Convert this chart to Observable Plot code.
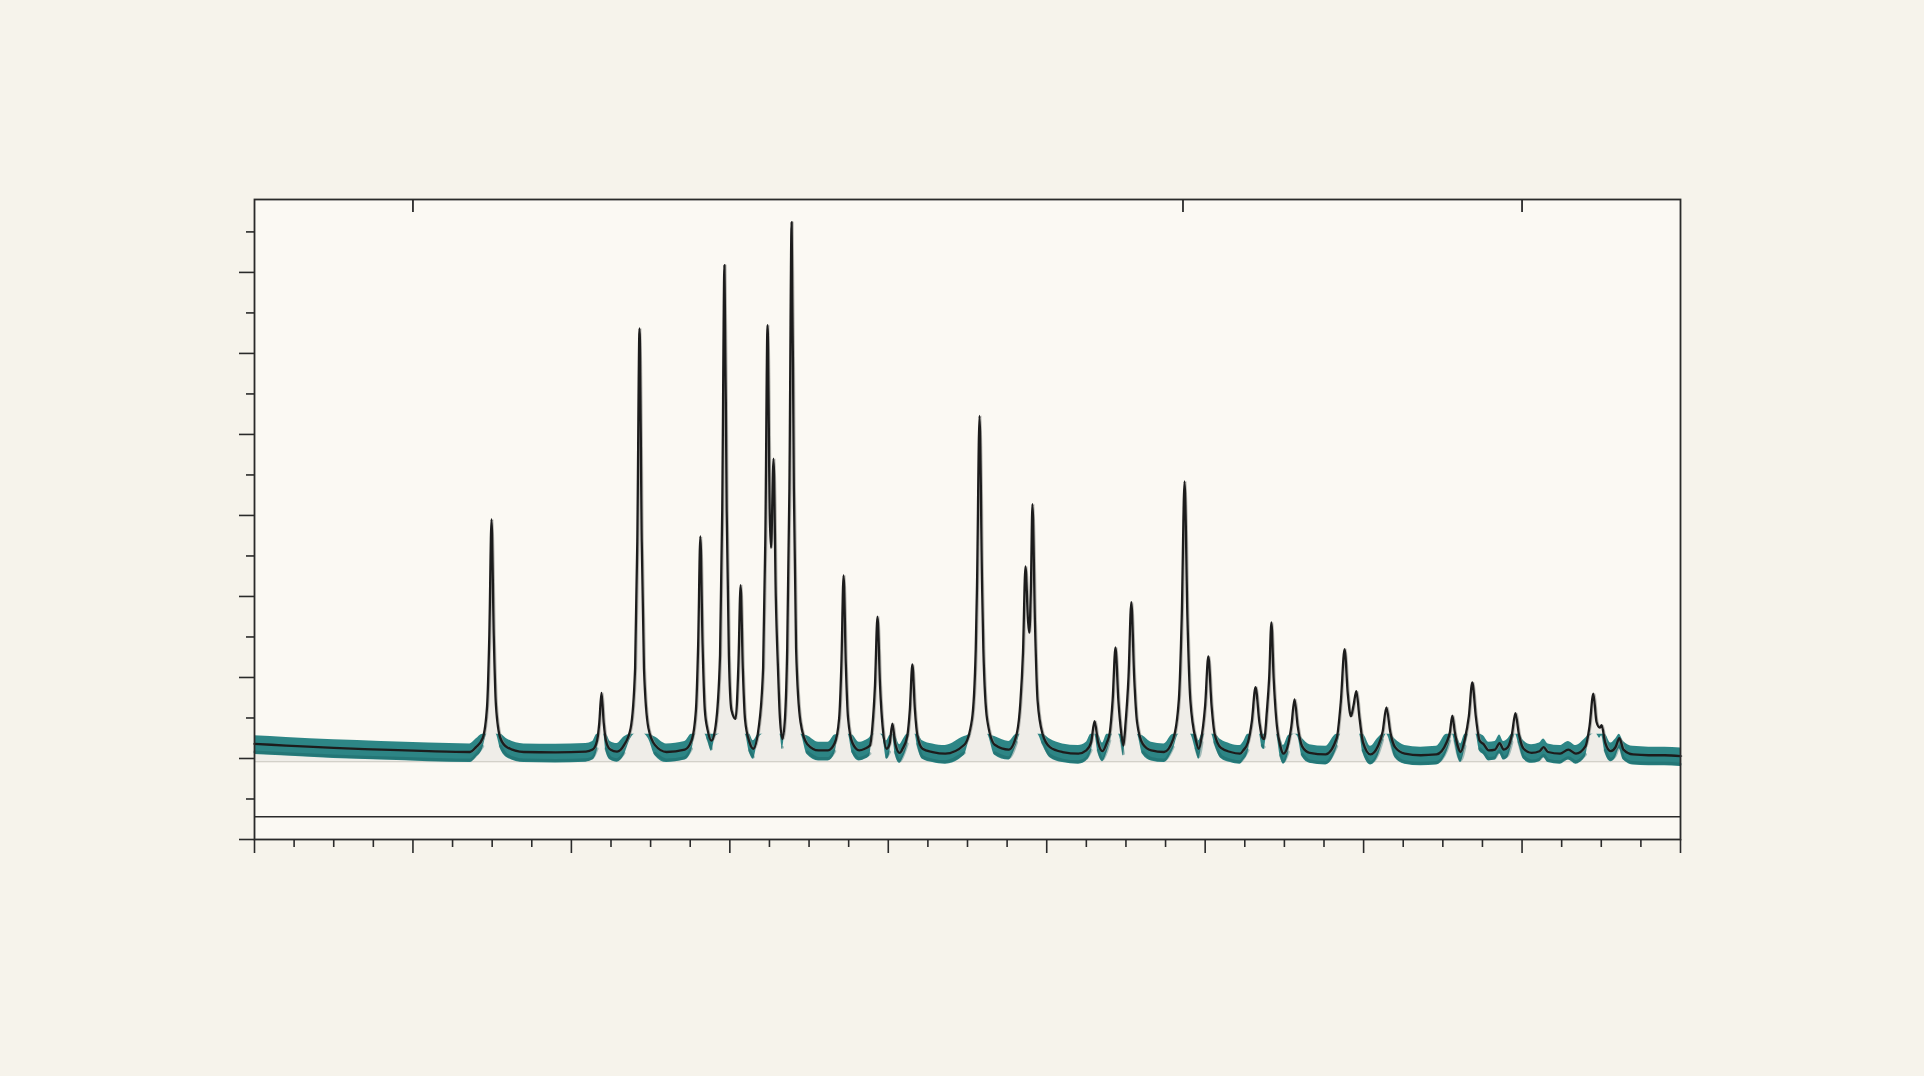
<!DOCTYPE html>
<html>
<head>
<meta charset="utf-8">
<script src="https://cdn.jsdelivr.net/npm/d3@7"></script>
<script src="https://cdn.jsdelivr.net/npm/@observablehq/plot@0.6"></script>
<style>
  html, body { margin: 0; padding: 0; background: #f6f3eb; }
  #chart svg { display: block; }
</style>
</head>
<body>
<div id="chart"></div>
<script>
// Diffraction trace: 2θ positions and intensities of the vertices
const twoTheta = [
  5.0, 6.0, 7.5, 9.0, 10.5, 11.8,
  11.99, 12.20, 12.34, 12.41, 12.48, 12.55, 12.62, 12.76, 12.97,
  13.5, 14.5,
  15.46, 15.67, 15.81, 15.88, 15.95, 16.02, 16.09, 16.23, 16.44,
  16.66, 16.87, 17.01, 17.08, 17.15, 17.22, 17.29, 17.43, 17.64,
  18.0,
  18.58, 18.79, 18.93, 19.00, 19.07, 19.14, 19.21, 19.30, 19.42, 19.55,
  19.69, 19.76, 19.83, 19.90, 19.97, 20.05, 20.18,
  20.27, 20.34, 20.41, 20.48, 20.62, 20.74,
  20.91, 21.05, 21.12, 21.19, 21.26, 21.30, 21.38, 21.45, 21.52, 21.58, 21.66,
  21.74, 21.81, 21.88, 21.95, 22.02, 22.09, 22.23, 22.44, 22.8,
  23.10, 23.31, 23.45, 23.52, 23.59, 23.66, 23.73, 23.87, 24.08,
  24.26, 24.42, 24.50, 24.58, 24.66, 24.74, 24.82, 24.95,
  25.04, 25.13, 25.22, 25.36,
  25.45, 25.60, 25.68, 25.76, 25.84, 25.92, 26.08, 26.4, 26.8,
  27.40, 27.64, 27.76, 27.80, 27.88, 27.96, 28.00, 28.12, 28.36, 28.8,
  29.05, 29.17, 29.25, 29.33, 29.41, 29.45, 29.50, 29.55, 29.63, 29.71, 29.87, 30.10, 30.5, 31.0,
  31.25, 31.40, 31.51, 31.62, 31.76,
  31.90, 31.99, 32.08, 32.17, 32.26, 32.35, 32.42,
  32.49, 32.58, 32.67, 32.76, 32.85, 33.03, 33.3, 33.7,
  33.99, 34.17, 34.26, 34.35, 34.44, 34.53, 34.71, 34.80,
  34.90, 35.00, 35.10, 35.20, 35.30, 35.50, 35.8, 36.1,
  36.2, 36.35, 36.47, 36.59, 36.71, 36.80, 36.86,
  36.95, 37.02, 37.09, 37.16, 37.24, 37.38, 37.47,
  37.62, 37.72, 37.82, 37.92, 38.06, 38.3, 38.8,
  39.15, 39.28, 39.40, 39.50, 39.60, 39.68, 39.77, 39.87, 39.98, 40.22,
  40.45, 40.60, 40.72, 40.84, 40.99, 41.3, 41.8, 42.3,
  42.62, 42.72, 42.80, 42.88, 42.98, 43.06,
  43.20, 43.32, 43.43, 43.54, 43.66, 43.78, 43.95,
  44.15, 44.29, 44.42, 44.55, 44.68, 44.79, 44.90, 45.05, 45.3,
  45.55, 45.68, 45.82, 46.2, 46.46, 46.7,
  47.00, 47.13, 47.25, 47.35, 47.45, 47.51, 47.62, 47.80,
  47.95, 48.07, 48.20, 48.5, 49.0, 49.5, 50.0
];
const intensity = [
  18, 16, 13, 11, 9, 8,
  14, 25, 65, 152, 295, 152, 65, 25, 14,
  8, 7.5,
  8.5, 11, 22, 44, 81, 44, 22, 11, 8.5,
  16.5, 37.5, 111, 268, 531, 268, 111, 37.5, 16.5,
  8,
  11, 22, 60, 140, 274, 140, 60, 35, 22, 40,
  127, 307, 609, 307, 127, 60, 49,
  115, 214, 110, 48, 20, 12,
  38, 112, 271, 535, 300, 260, 370, 200, 110, 50, 24,
  50, 136, 334, 662, 334, 136, 45, 18, 10,
  10, 19, 50, 116, 226, 116, 50, 19, 10,
  12, 16, 40, 90, 175, 90, 40, 12,
  18, 43, 18, 7,
  12, 28, 60, 116, 60, 28, 12, 8, 6,
  17, 48, 135, 214, 423, 214, 135, 48, 17, 11,
  30, 70, 130, 237, 170, 155, 210, 314, 165, 72, 30, 14, 8, 6,
  10, 20, 46, 20, 9,
  20, 32, 72, 137, 72, 32, 16,
  45, 100, 193, 100, 45, 18, 10, 8,
  24, 73, 174, 342, 174, 73, 22, 12,
  30, 66, 126, 66, 30, 13, 8, 6,
  10, 20, 45, 88, 45, 26, 24,
  60, 100, 168, 100, 50, 14, 6,
  18, 40, 73, 40, 15, 7, 5,
  25, 70, 135, 80, 52, 65, 83, 50, 20, 5,
  15, 33, 63, 33, 14, 6, 4, 5,
  20, 32, 53, 32, 14, 8,
  25, 52, 94, 52, 22, 18, 10,
  11, 19, 11, 14, 30, 56, 30, 12, 7,
  9, 14, 8, 6, 11, 6,
  15, 40, 80, 45, 38, 41, 20, 9,
  14, 25, 11, 5, 4, 4, 3
];

// axis ticks and reference levels
const xMajorTicks = d3.range(5, 50.01, 5);
const xMinorTicks = d3.range(5, 50.01, 1.25).filter(t => Math.abs(t % 5) > 1e-6);
const xTopTicks = [10, 34.3, 45];
const yMajorTicks = d3.range(-100, 600.1, 100);
const yMinorTicks = d3.range(-50, 650.1, 100);
const baselineLevel = [-4];
const lowerLevel = [-72];
const tealCap = 30;      // teal wash only reaches this intensity
const tealAbove = 10;    // band extent above the trace
const tealBelow = 13;    // band extent below the trace

const trace = twoTheta.map((t, i) => ({t, v: intensity[i]}));

const ink = "#2a2a2a";
const blank = () => "";
const tealEdge = d => (d.v - tealBelow + 3 < tealCap - 4) ? d.v - tealBelow + 3 : NaN;

const chart = Plot.plot({
  width: 1924,
  height: 1076,
  marginTop: 199,
  marginBottom: 237,
  marginLeft: 254,
  marginRight: 244,
  x: {domain: [5, 50]},
  y: {domain: [-100, 690]},
  style: {background: "transparent"},
  marks: [
    Plot.frame({fill: "#fbf9f3", stroke: null}),
    Plot.ruleY(baselineLevel, {stroke: "#c9c6be", strokeWidth: 1.2}),
    Plot.ruleY(lowerLevel, {stroke: ink, strokeWidth: 1.5}),
    Plot.areaY(trace, {x: "t", y1: baselineLevel[0], y2: "v", curve: "monotone-x", fill: "#8d8d88", fillOpacity: 0.1}),
    Plot.areaY(trace, {
      x: "t",
      y1: d => Math.min(d.v - tealBelow, tealCap),
      y2: d => Math.min(d.v + tealAbove, tealCap),
      curve: "monotone-x", fill: "#22807f", fillOpacity: 0.95
    }),
    Plot.line(trace, {x: "t", y: tealEdge, curve: "monotone-x", stroke: "#155c5c", strokeWidth: 3, strokeOpacity: 0.35}),
    Plot.line(trace, {x: "t", y: "v", curve: "monotone-x", stroke: "#8a8a86", strokeWidth: 1.2, dx: 1.5, strokeOpacity: 0.6}),
    Plot.line(trace, {x: "t", y: "v", curve: "monotone-x", stroke: "#1c1c1c", strokeWidth: 2.3, strokeLinejoin: "round"}),
    Plot.axisX({anchor: "bottom", ticks: xMajorTicks, tickSize: 14, tickFormat: blank, label: null, stroke: ink, strokeWidth: 1.6}),
    Plot.axisX({anchor: "bottom", ticks: xMinorTicks, tickSize: 8, tickFormat: blank, label: null, stroke: ink, strokeWidth: 1.6}),
    Plot.axisX({anchor: "top", ticks: xTopTicks, tickSize: -12, tickFormat: blank, label: null, stroke: ink, strokeWidth: 1.8}),
    Plot.axisY({anchor: "left", ticks: yMajorTicks, tickSize: 15, tickFormat: blank, label: null, stroke: ink, strokeWidth: 1.6}),
    Plot.axisY({anchor: "left", ticks: yMinorTicks, tickSize: 8, tickFormat: blank, label: null, stroke: ink, strokeWidth: 1.6}),
    Plot.frame({stroke: ink, strokeWidth: 1.8})
  ]
});
document.getElementById("chart").append(chart);
</script>
</body>
</html>
